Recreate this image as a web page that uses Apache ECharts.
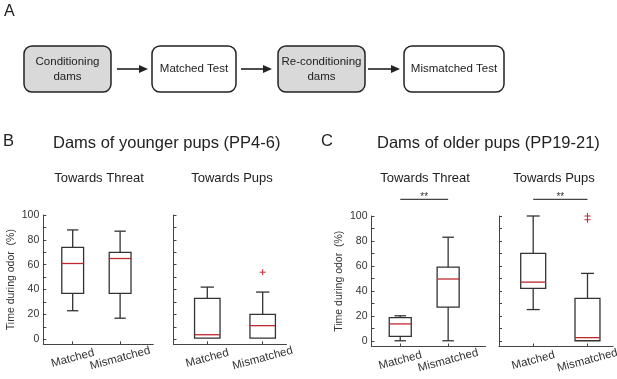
<!DOCTYPE html>
<html>
<head>
<meta charset="utf-8">
<script src="https://cdn.jsdelivr.net/npm/echarts@6/dist/echarts.min.js"></script>
<style>
  html, body { margin: 0; padding: 0; background: #fff; }
  #chart { width: 617px; height: 379px; }
</style>
</head>
<body>
<div id="chart"></div>
<script>
// data
var categories = ['Matched', 'Mismatched'];
var yTicks = [0, 10, 20, 30, 40, 50, 60, 70, 80, 90, 100];
var yLabels = [0, 20, 40, 60, 80, 100];
// [lower whisker, Q1, median, Q3, upper whisker] per category
var youngerThreat = [[23, 37, 61, 74, 88], [17, 37, 65, 70, 87]];
var youngerPups = [[1, 1, 3.7, 33, 42], [1, 1, 11, 20, 38]];
var olderThreat = [[0, 3.5, 13.5, 18.5, 20], [0, 27, 49.5, 59, 83]];
var olderPups = [[25, 42, 47, 70, 100], [0, 0, 2.5, 34, 54]];
// outliers as [category index (1-based), value]
var youngerPupsOutliers = [[2, 54]];
var olderPupsOutliers = [[2, 100], [2, 97]];
// significance brackets: [from category, to category, label]
var olderSig = [[1, 2, '**']];

var FONT = '"Liberation Sans", Arial, sans-serif';
var INK = '#333';
var RED = '#c0282d';
var BOX_HALF = 0.23, CAP_HALF = 0.12, SIG_Y = 113.4;

var chart = echarts.init(document.getElementById('chart'));

function renderBox(params, api) {
  var x = api.value(0);
  var lo = api.value(1), q1 = api.value(2), med = api.value(3), q3 = api.value(4), hi = api.value(5);
  var hw = api.size([BOX_HALF, 0])[0];
  var cw = api.size([CAP_HALF, 0])[0];
  var p1 = api.coord([x, q1]), p3 = api.coord([x, q3]);
  var pm = api.coord([x, med]), plo = api.coord([x, lo]), phi = api.coord([x, hi]);
  var cx = p1[0];
  var st = { stroke: INK, lineWidth: 1.3, fill: null };
  var kids = [];
  if (hi > q3) {
    kids.push({ type: 'line', shape: { x1: cx, y1: p3[1], x2: cx, y2: phi[1] }, style: st });
    kids.push({ type: 'line', shape: { x1: cx - cw, y1: phi[1], x2: cx + cw, y2: phi[1] }, style: st });
  }
  if (lo < q1) {
    kids.push({ type: 'line', shape: { x1: cx, y1: p1[1], x2: cx, y2: plo[1] }, style: st });
    kids.push({ type: 'line', shape: { x1: cx - cw, y1: plo[1], x2: cx + cw, y2: plo[1] }, style: st });
  }
  kids.push({ type: 'rect', shape: { x: cx - hw, y: p3[1], width: 2 * hw, height: p1[1] - p3[1] }, style: { stroke: INK, lineWidth: 1.3, fill: 'rgba(0,0,0,0)' } });
  kids.push({ type: 'line', shape: { x1: cx - hw, y1: pm[1], x2: cx + hw, y2: pm[1] }, style: { stroke: RED, lineWidth: 1.3 } });
  return { type: 'group', children: kids };
}

function renderPlus(params, api) {
  var p = api.coord([api.value(0), api.value(1)]);
  var s = 3;
  var st = { stroke: RED, lineWidth: 1 };
  return { type: 'group', children: [
    { type: 'line', shape: { x1: p[0] - s, y1: p[1], x2: p[0] + s, y2: p[1] }, style: st },
    { type: 'line', shape: { x1: p[0], y1: p[1] - s, x2: p[0], y2: p[1] + s }, style: st }
  ] };
}

function renderSig(params, api) {
  var a = api.coord([api.value(0), SIG_Y]);
  var b = api.coord([api.value(1), SIG_Y]);
  return { type: 'group', children: [
    { type: 'line', shape: { x1: a[0], y1: a[1], x2: b[0], y2: b[1] }, style: { stroke: '#444', lineWidth: 1.2 } },
    { type: 'text', style: { text: olderSig[params.dataIndex][2], x: (a[0] + b[0]) / 2, y: a[1] - 2,
      textAlign: 'center', textVerticalAlign: 'middle', fontSize: 10, fill: INK, fontFamily: FONT } }
  ] };
}

var panels = [
  { grid: { left: 43.3, top: 215, width: 110, height: 129.3 }, x: [0.38, 2.70], yMin: -4, labels: true, boxes: youngerThreat, out: [], sig: false },
  { grid: { left: 173.5, top: 215, width: 113, height: 129.3 }, x: [0.39, 2.43], yMin: -4, labels: false, boxes: youngerPups, out: youngerPupsOutliers, sig: false },
  { grid: { left: 371.5, top: 216, width: 114, height: 130.5 }, x: [0.40, 2.78], yMin: -4.6, labels: true, boxes: olderThreat, out: [], sig: true },
  { grid: { left: 499, top: 216, width: 114, height: 130.5 }, x: [0.37, 2.47], yMin: -4.6, labels: false, boxes: olderPups, out: olderPupsOutliers, sig: true }
];

var grids = [], xAxes = [], yAxes = [], series = [];
panels.forEach(function (p, i) {
  grids.push(Object.assign({ outerBoundsMode: 'none', containLabel: false }, p.grid));
  xAxes.push({
    gridIndex: i, type: 'value', min: p.x[0], max: p.x[1],
    axisLine: { show: true, onZero: false, lineStyle: { color: '#444', width: 1 } },
    axisTick: { show: true, inside: true, length: 3, customValues: [1, 2], lineStyle: { color: '#444' } },
    axisLabel: {
      customValues: [1, 2], formatter: function (v) { return categories[Math.round(v) - 1]; },
      rotate: 15, align: 'center', verticalAlign: 'middle', margin: 14,
      fontSize: 11.5, color: INK, fontFamily: FONT
    },
    splitLine: { show: false }
  });
  yAxes.push({
    gridIndex: i, type: 'value', min: p.yMin, max: 100,
    axisLine: { show: true, onZero: false, lineStyle: { color: '#444', width: 1 } },
    axisTick: { show: true, inside: true, length: 3, customValues: yTicks, lineStyle: { color: '#444' } },
    axisLabel: { show: p.labels, customValues: yLabels, margin: 4, fontSize: 10.5, color: INK, fontFamily: FONT },
    splitLine: { show: false },
    name: p.labels ? 'Time during odor  (%)' : '',
    nameLocation: 'middle', nameGap: 27, nameMoveOverlap: false,
    nameTextStyle: { fontSize: 10.5, color: INK, fontFamily: FONT }
  });
  series.push({
    type: 'custom', xAxisIndex: i, yAxisIndex: i, renderItem: renderBox, silent: true,
    data: p.boxes.map(function (s, k) { return [k + 1].concat(s); })
  });
  if (p.out.length) {
    series.push({ type: 'custom', xAxisIndex: i, yAxisIndex: i, renderItem: renderPlus, silent: true, data: p.out });
  }
  if (p.sig) {
    series.push({ type: 'custom', xAxisIndex: i, yAxisIndex: i, renderItem: renderSig, silent: true, clip: false,
      data: olderSig.map(function (s) { return [s[0], s[1]]; }) });
  }
});

function txt(s, x, y, size, align) {
  return { type: 'text', x: x, y: y, silent: true,
    style: { text: s, fontSize: size, fontFamily: FONT, fill: '#222', textAlign: align || 'center', textVerticalAlign: 'middle', lineHeight: 15 } };
}
function box(x, w, fill, label) {
  return [
    { type: 'rect', shape: { x: x, y: 46, width: w, height: 46, r: 8 }, style: { fill: fill, stroke: '#222', lineWidth: 1.5 } },
    txt(label, x + w / 2, 69, 11.5)
  ];
}
function arrow(x1, x2) {
  return [
    { type: 'line', shape: { x1: x1, y1: 69, x2: x2 - 7, y2: 69 }, style: { stroke: '#222', lineWidth: 1.6 } },
    { type: 'polygon', shape: { points: [[x2, 69], [x2 - 9, 65], [x2 - 9, 73]] }, style: { fill: '#222' } }
  ];
}

var graphics = [].concat(
  [txt('A', 4, 12, 16, 'left'), txt('B', 3, 141, 16.5, 'left'), txt('C', 321, 141, 16.5, 'left')],
  box(24, 87, '#d9d9d9', 'Conditioning\ndams'),
  arrow(117, 148),
  box(152, 84, '#fff', 'Matched Test'),
  arrow(241, 272),
  box(278, 87, '#d9d9d9', 'Re-conditioning\ndams'),
  arrow(368, 400),
  box(404, 100, '#fff', 'Mismatched Test'),
  [
    txt('Dams of younger pups (PP4-6)', 53, 143, 16.5, 'left'),
    txt('Dams of older pups (PP19-21)', 377, 143, 16.5, 'left'),
    txt('Towards Threat', 99, 178, 13),
    txt('Towards Pups', 232, 178, 13),
    txt('Towards Threat', 425, 178, 13),
    txt('Towards Pups', 554, 178, 13)
  ]
);

var option = {
  backgroundColor: '#fff',
  animation: false,
  textStyle: { fontFamily: FONT },
  grid: grids,
  xAxis: xAxes,
  yAxis: yAxes,
  series: series,
  graphic: graphics
};
chart.setOption(option);
</script>
</body>
</html>
